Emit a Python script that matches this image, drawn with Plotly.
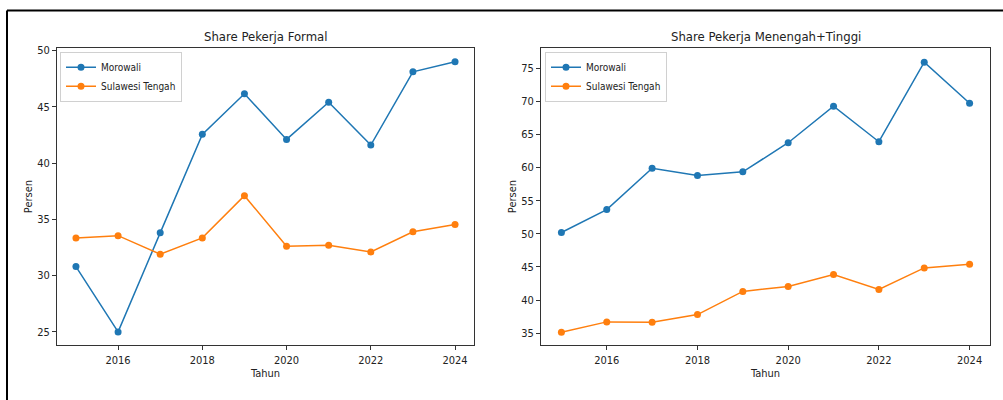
import plotly.graph_objects as go

# Data
tahun = [2015, 2016, 2017, 2018, 2019, 2020, 2021, 2022, 2023, 2024]

formal_morowali = [30.8, 25.0, 33.8, 42.55, 46.15, 42.1, 45.4, 41.6, 48.1, 49.0]
formal_sulteng = [33.35, 33.55, 31.9, 33.35, 37.1, 32.6, 32.7, 32.1, 33.9, 34.55]

mt_morowali = [50.2, 53.65, 59.9, 58.8, 59.35, 63.75, 69.25, 63.9, 75.9, 69.7]
mt_sulteng = [35.15, 36.7, 36.65, 37.8, 41.3, 42.05, 43.85, 41.6, 44.85, 45.4]

x_ticks = [2016, 2018, 2020, 2022, 2024]
y_ticks_formal = [25, 30, 35, 40, 45, 50]
y_ticks_mt = [35, 40, 45, 50, 55, 60, 65, 70, 75]

BLUE = "#1f77b4"
ORANGE = "#ff7f0e"
FONT = "Liberation Sans Narrow, DejaVu Sans Condensed, DejaVu Sans, sans-serif"
W, H = 1003, 400


def px_x(p):
    return p / W


def px_y(p):
    return 1 - p / H


fig = go.Figure()


def add_series(x, y, name, color, xa, ya, legend):
    fig.add_trace(go.Scatter(
        x=x, y=y, name=name, mode="lines+markers",
        line=dict(color=color, width=1.5),
        marker=dict(color=color, size=7),
        xaxis=xa, yaxis=ya, legend=legend,
    ))


add_series(tahun, formal_morowali, "Morowali", BLUE, "x", "y", "legend")
add_series(tahun, formal_sulteng, "Sulawesi Tengah", ORANGE, "x", "y", "legend")
add_series(tahun, mt_morowali, "Morowali", BLUE, "x2", "y2", "legend2")
add_series(tahun, mt_sulteng, "Sulawesi Tengah", ORANGE, "x2", "y2", "legend2")

axis_common = dict(
    showline=True, linecolor="#333333", linewidth=1, mirror=True,
    ticks="outside", ticklen=4, tickwidth=1, tickcolor="#333333",
    showgrid=False, zeroline=False,
    tickfont=dict(family=FONT, size=11, color="#222222"),
    title_font=dict(family=FONT, size=11, color="#222222"),
)

legend_common = dict(
    xanchor="left", yanchor="top",
    bgcolor="white", bordercolor="#d0d0d0", borderwidth=1,
    font=dict(family=FONT, size=10, color="#222222"),
    itemwidth=30, tracegroupgap=0,
)

fig.update_layout(
    width=W, height=H,
    margin=dict(l=0, r=0, t=0, b=0),
    paper_bgcolor="white", plot_bgcolor="white",
    showlegend=True,
    xaxis=dict(domain=[px_x(57), px_x(474)], range=[2014.55, 2024.45],
               tickvals=x_ticks, anchor="y", title=dict(text="Tahun", standoff=1),
               **axis_common),
    yaxis=dict(domain=[px_y(345), px_y(45)], range=[23.8, 50.25],
               tickvals=y_ticks_formal, anchor="x", title=dict(text="Persen", standoff=2),
               **axis_common),
    xaxis2=dict(domain=[px_x(541), px_x(990)], range=[2014.55, 2024.45],
                tickvals=x_ticks, anchor="y2", title=dict(text="Tahun", standoff=1),
                **axis_common),
    yaxis2=dict(domain=[px_y(345), px_y(45)], range=[33.15, 78.1],
                tickvals=y_ticks_mt, anchor="x2", title=dict(text="Persen", standoff=2),
                **axis_common),
    legend=dict(x=px_x(60), y=px_y(49), **legend_common),
    legend2=dict(x=px_x(545), y=px_y(49), **legend_common),
    annotations=[
        dict(text="Share Pekerja Formal", x=(px_x(57) + px_x(474)) / 2, y=px_y(34),
             xref="paper", yref="paper", showarrow=False, xanchor="center", yanchor="middle",
             font=dict(family=FONT, size=13, color="#222222")),
        dict(text="Share Pekerja Menengah+Tinggi", x=(px_x(541) + px_x(990)) / 2, y=px_y(34),
             xref="paper", yref="paper", showarrow=False, xanchor="center", yanchor="middle",
             font=dict(family=FONT, size=13, color="#222222")),
    ],
    shapes=[
        dict(type="line", xref="paper", yref="paper", x0=px_x(7), x1=1, y0=px_y(7.5), y1=px_y(7.5),
             line=dict(color="black", width=2)),
        dict(type="line", xref="paper", yref="paper", x0=px_x(7), x1=px_x(7), y0=px_y(7.5), y1=0,
             line=dict(color="black", width=2)),
    ],
)

fig.write_html("out.html")
